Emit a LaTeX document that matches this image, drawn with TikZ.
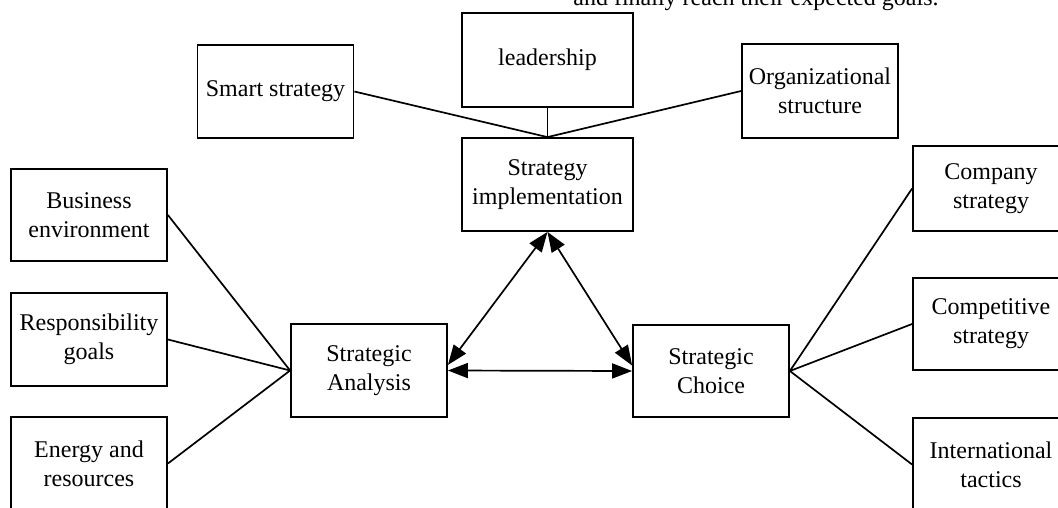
\documentclass[tikz,border=0pt]{standalone}
\usepackage{fontspec}
\setmainfont{Liberation Serif}
\usetikzlibrary{arrows.meta}
\begin{document}
\begin{tikzpicture}[x=1pt,y=-1pt,
  txt/.style={font=\fontsize{24}{29}\selectfont},
  box/.style={draw, line width=1.8pt, rectangle, inner sep=0pt, align=center, txt,
    minimum height=93pt, minimum width=156pt},
  link/.style={line width=1.7pt},
  biarrow/.style={line width=1.7pt,
    {Triangle[length=20pt,width=15pt]}-{Triangle[length=20pt,width=15pt]}}]
\useasboundingbox (0,0) rectangle (1058,507);
\clip (0,0) rectangle (1058,507);

\node[txt, anchor=base, inner sep=0pt] (note) at (756,5) {and finally reach their expected goals.};

\node[box] (smart) at (275.5,91.5) {Smart strategy};
\node[box, minimum width=171pt, minimum height=94pt] (lead) at (547.5,60) {leadership};
\node[box, minimum height=94pt] (org) at (820,91) {Organizational\\structure};
\node[box, minimum width=171pt] (impl) at (547.5,184.5) {Strategy\\implementation};

\node[box, minimum height=92pt] (bus) at (89,215) {Business\\environment};
\node[box] (resp) at (89,339.5) {Responsibility\\goals};
\node[box] (energy) at (89,463.5) {Energy and\\resources};
\node[box] (analysis) at (369,370.5) {Strategic\\Analysis};

\node[box, minimum height=92pt] (choice) at (711,371) {Strategic\\Choice};
\node[box, minimum height=85pt] (company) at (991,188.5) {Company\\strategy};
\node[box, minimum height=92pt] (comp) at (991,324) {Competitive\\strategy};
\node[box] (intl) at (991,464.5) {International\\tactics};

\draw[link] (smart.east) -- (impl.north);
\draw[link] (lead.south) -- (impl.north);
\draw[link] (org.west) -- (impl.north);

\draw[link] (bus.east) -- (analysis.west);
\draw[link] (resp.east) -- (analysis.west);
\draw[link] (energy.east) -- (analysis.west);

\draw[link] (choice.east) -- (company.west);
\draw[link] (choice.east) -- (comp.west);
\draw[link] (choice.east) -- (intl.west);

\draw[biarrow] (impl.south) -- (analysis.4);
\draw[biarrow] (impl.south) -- (choice.176);
\draw[biarrow] (analysis.east) -- (choice.west);
\end{tikzpicture}
\end{document}
